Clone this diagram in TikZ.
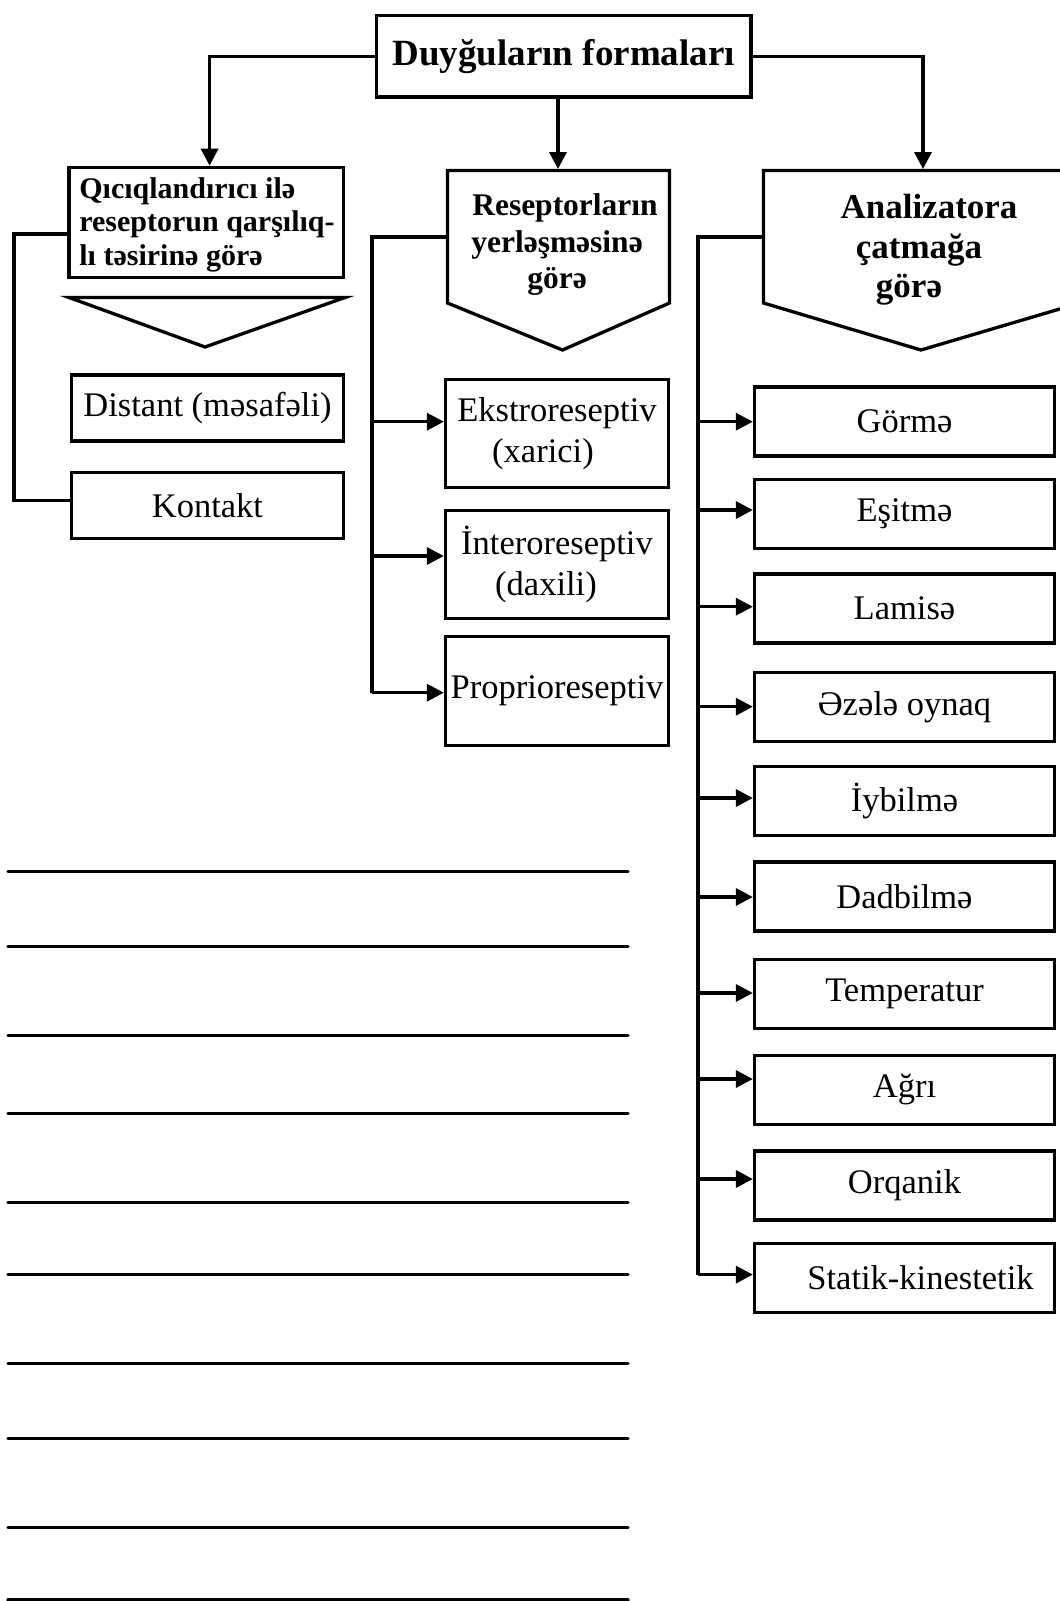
\documentclass[tikz,border=0pt]{standalone}
\usepackage{fontspec}
\setmainfont{Liberation Serif}
\usetikzlibrary{arrows.meta}
\begin{document}
\begin{tikzpicture}[x=1pt,y=-1pt,
  box/.style={draw, line width=3.3pt, rectangle, inner sep=0pt, align=center},
  reg/.style={font=\fontsize{34.5}{41}\selectfont},
  rbox/.style={box, reg, minimum width=300pt, minimum height=69pt},
  mbox/.style={box, reg, minimum width=223pt, minimum height=108pt},
  lbox/.style={box, reg, minimum width=272pt, minimum height=66pt},
  arr/.style={line width=3.3pt, -{Triangle[length=17pt,width=17pt]}},
  ln/.style={line width=3.3pt},
  rule/.style={line width=3.3pt, line cap=round}]
\clip (0,0) rectangle (1060,1601);
\fill[white] (0,0) rectangle (1060,1601);

% top
\node[box, minimum width=374.5pt, minimum height=81.5pt, font=\bfseries\fontsize{37}{40}\selectfont] (top) at (563.75,56.25) {Duyğuların formaları};

% left column
\node[box, minimum width=274.4pt, minimum height=110pt, align=left, font=\bfseries\fontsize{30}{33.5}\selectfont] (qic) at (206.3,222.4) {};
\node[align=left, font=\bfseries\fontsize{30}{33.5}\selectfont] (qictext) at (207,224.4) {Qıcıqlandırıcı ilə\\reseptorun qarşılıq-\\lı təsirinə görə};
\draw[ln] (69,297.5) -- (345,297.5) -- (205,347) -- cycle;
\node[lbox] (distant) at (207.5,408) {Distant (məsafəli)};
\node[lbox] (kontakt) at (207.5,505.5) {Kontakt};

% middle column
\draw[ln] (447.5,170.5) -- (669.5,170.5) -- (669.5,303) -- (562.5,350) -- (447.5,303) -- cycle;
\node[font=\bfseries\fontsize{31.5}{36.5}\selectfont, align=center] (mtext) at (557,245) {\hspace*{16pt}Reseptorların\\yerləşməsinə\\görə};
\node[mbox] (ekstro) at (557,433.5) {Ekstroreseptiv\\\hspace*{-28pt}(xarici)};
\node[mbox] (intero) at (557,564.5) {İnteroreseptiv\\\hspace*{-22pt}(daxili)};
\node[mbox, minimum height=109pt] (proprio) at (557,691) {Proprioreseptiv};

% right column
\draw[ln] (1100,170.5) -- (763.5,170.5) -- (763.5,303) -- (921,350) -- (1080,303) -- (1080,170.5);
\node[font=\bfseries\fontsize{35}{39.5}\selectfont, align=center] (rtext) at (919,250) {\hspace*{20pt}Analizatora\\çatmağa\\\hspace*{-20pt}görə};
\node[rbox] (b1) at (904.5,421.4) {Görmə};
\node[rbox] (b2) at (904.5,513.9) {Eşitmə};
\node[rbox] (b3) at (904.5,608.4) {Lamisə};
\node[rbox] (b4) at (904.5,706.9) {Əzələ oynaq};
\node[rbox] (b5) at (904.5,801.2) {İybilmə};
\node[rbox] (b6) at (904.5,896.5) {Dadbilmə};
\node[rbox] (b7) at (904.5,994) {Temperatur};
\node[rbox] (b8) at (904.5,1089.8) {Ağrı};
\node[rbox] (b9) at (904.5,1185.6) {Orqanik};
\node[rbox] (b10) at (904.5,1278) {\hspace*{32pt}Statik-kinestetik};

% connectors from top
\coordinate (ql) at (209.6,165.7);
\coordinate (pm) at (558,169);
\coordinate (pr) at (923,169);
\draw[arr] (top.west) -| (ql);
\draw[arr] (top.south -| pm) -- (pm);
\draw[arr] (top.east) -| (pr);

% left bracket
\coordinate (lb1) at (14,234);
\coordinate (lb2) at (14,500.7);
\draw[ln] (lb1 -| qic.west) -- (lb1) -- (lb2) -- (lb2 -| kontakt.west);

% middle bracket
\coordinate (pmw) at (447.5,237);
\coordinate (mb0) at (372,237);
\coordinate (mb1) at (372,421.7);
\coordinate (mb2) at (372,556);
\coordinate (mb3) at (372,692.7);
\draw[ln] (pmw) -- (mb0) -- (mb3);
\draw[arr] (mb1) -- (mb1 -| ekstro.west);
\draw[arr] (mb2) -- (mb2 -| intero.west);
\draw[arr] (mb3) -- (mb3 -| proprio.west);

% right bracket
\coordinate (prw) at (763.5,237);
\coordinate (rb0) at (698,237);
\coordinate (r1) at (698,421.7);
\coordinate (r2) at (698,510);
\coordinate (r3) at (698,606.7);
\coordinate (r4) at (698,706.7);
\coordinate (r5) at (698,798);
\coordinate (r6) at (698,897);
\coordinate (r7) at (698,993);
\coordinate (r8) at (698,1079);
\coordinate (r9) at (698,1179);
\coordinate (r10) at (698,1274.6);
\draw[line width=4.2pt] (prw) -- (rb0) -- (r10);
\foreach \i in {1,...,10} {
  \draw[arr] (r\i) -- (r\i -| b\i.west);
}

% ruled lines
\foreach \yy in {871.5,946.8,1035.8,1113.5,1202.4,1274.5,1363.6,1438.8,1527.8,1600} {
  \draw[rule] (8,\yy) -- (628,\yy);
}
\end{tikzpicture}
\end{document}
